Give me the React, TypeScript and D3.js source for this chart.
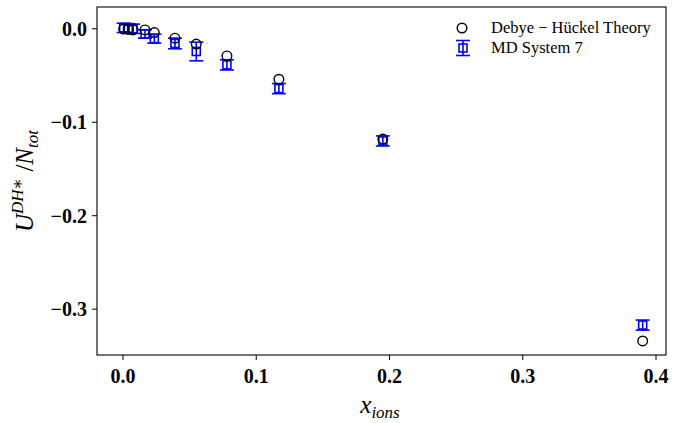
import React from "react";
import { scaleLinear } from "d3";

const dhX = [0.0005, 0.004, 0.0075, 0.0165, 0.0235, 0.039, 0.055, 0.078, 0.117, 0.195, 0.39];
const dhY = [-0.0003, -0.0007, -0.0012, -0.0012, -0.004, -0.01, -0.0164, -0.029, -0.054, -0.118, -0.334];

const mdX = [0.0005, 0.004, 0.0075, 0.0165, 0.0235, 0.039, 0.055, 0.078, 0.117, 0.195, 0.39];
const mdY = [0.001, 0.0005, 0.0, -0.0055, -0.0105, -0.0157, -0.0243, -0.0386, -0.064, -0.12, -0.317];
const mdErr = [0.005, 0.005, 0.005, 0.0045, 0.0048, 0.0057, 0.01, 0.0055, 0.0054, 0.0054, 0.0054];

const xTicks = [0.0, 0.1, 0.2, 0.3, 0.4];
const yTicks = [0.0, -0.1, -0.2, -0.3];

const W = 673;
const H = 423;
const left = 97,
  right = 666,
  top = 7,
  bottom = 355;

const blue = "#0000ff";
const tickFont = "'Liberation Serif', 'DejaVu Serif', serif";

const App = () => {
  const x = scaleLinear().domain([-0.0195, 0.4075]).range([left, right]);
  const y = scaleLinear().domain([-0.349, 0.0233]).range([bottom, top]);

  const fmt = (v: number) => (v < 0 ? "\u2212" + Math.abs(v).toFixed(1) : v.toFixed(1));

  const errorbar = (cx: number, cy: number, yLo: number, yHi: number, key: string) => (
    <g key={key} stroke={blue} strokeWidth={1.6} fill="none">
      <line x1={cx} x2={cx} y1={yLo} y2={yHi} />
      <line x1={cx - 7} x2={cx + 7} y1={yLo} y2={yLo} />
      <line x1={cx - 7} x2={cx + 7} y1={yHi} y2={yHi} />
      <rect x={cx - 4} y={cy - 4} width={8} height={8} />
    </g>
  );

  return (
    <svg width={W} height={H} style={{ position: "absolute", left: 0, top: 0, background: "#fff" }}>
      <rect x={0} y={0} width={W} height={H} fill="#fff" />

      {/* MD errorbars */}
      {mdX.map((d, i) =>
        errorbar(x(d), y(mdY[i]), y(mdY[i] - mdErr[i]), y(mdY[i] + mdErr[i]), "md" + i)
      )}

      {/* Debye-Hückel */}
      {dhX.map((d, i) => (
        <circle key={"dh" + i} cx={x(d)} cy={y(dhY[i])} r={4.8} fill="none" stroke="#000" strokeWidth={1.4} />
      ))}

      {/* frame */}
      <rect x={left} y={top} width={right - left} height={bottom - top} fill="none" stroke="#000" strokeWidth={1.1} />

      {/* x axis */}
      {xTicks.map((t) => (
        <g key={"xt" + t}>
          <line x1={x(t)} x2={x(t)} y1={bottom} y2={bottom + 5} stroke="#000" strokeWidth={1} />
          <text x={x(t)} y={bottom + 28} textAnchor="middle" fontFamily={tickFont} fontWeight="bold" fontSize={20}>
            {fmt(t)}
          </text>
        </g>
      ))}

      {/* y axis */}
      {yTicks.map((t) => (
        <g key={"yt" + t}>
          <line x1={left - 5} x2={left} y1={y(t)} y2={y(t)} stroke="#000" strokeWidth={1} />
          <text x={left - 10} y={y(t) + 7} textAnchor="end" fontFamily={tickFont} fontWeight="bold" fontSize={20}>
            {fmt(t)}
          </text>
        </g>
      ))}

      {/* axis labels */}
      <text x={380} y={413} textAnchor="middle" fontFamily={tickFont} fontSize={25}>
        <tspan fontStyle="italic">x</tspan>
        <tspan fontStyle="italic" fontSize={17} dy={5}>ions</tspan>
      </text>
      <text
        transform="translate(33,181) rotate(-90)"
        textAnchor="middle"
        fontFamily={tickFont}
        fontSize={25}
      >
        <tspan fontStyle="italic">U</tspan>
        <tspan fontStyle="italic" fontSize={17} dy={-10}>DH</tspan>
        <tspan fontSize={17}>∗</tspan>
        <tspan dy={10}> /</tspan>
        <tspan fontStyle="italic">N</tspan>
        <tspan fontStyle="italic" fontSize={17} dy={5}>tot</tspan>
      </text>

      {/* legend */}
      <circle cx={462} cy={28} r={4.8} fill="none" stroke="#000" strokeWidth={1.4} />
      <text x={491} y={33} fontFamily={tickFont} fontSize={16.5}>
        Debye − Hückel Theory
      </text>
      {errorbar(463, 48, 55.5, 40.5, "leg")}
      <text x={491} y={53} fontFamily={tickFont} fontSize={16.5}>
        MD System 7
      </text>
    </svg>
  );
};

export default App;
